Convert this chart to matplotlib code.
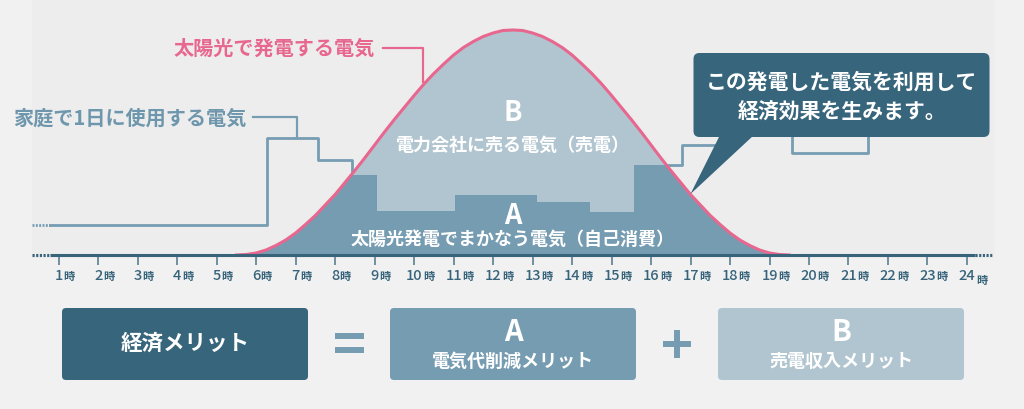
import numpy as np
import matplotlib.pyplot as plt
from matplotlib.patches import FancyBboxPatch, Polygon, Rectangle

plt.rcParams['font.family'] = ['Noto Sans CJK JP', 'DejaVu Sans']

# 太陽光の発電量 (15分ごと, 5:30〜19:30)
solar_hours = np.arange(5.5, 19.51, 0.25)
solar_kw = [0.00, 0.01, 0.04, 0.10, 0.19, 0.30, 0.44, 0.61, 0.79, 1.00,
            1.21, 1.45, 1.69, 1.94, 2.20, 2.46, 2.71, 2.95, 3.19, 3.42,
            3.63, 3.82, 4.00, 4.15, 4.27, 4.37, 4.44, 4.49, 4.50, 4.49,
            4.44, 4.37, 4.27, 4.15, 4.00, 3.82, 3.63, 3.42, 3.19, 2.95,
            2.71, 2.46, 2.20, 1.94, 1.69, 1.45, 1.21, 1.00, 0.79, 0.61,
            0.44, 0.30, 0.19, 0.10, 0.04, 0.01, 0.00]

# 家庭の使用量 (階段状)
household_edges = [0.78, 6.27, 7.57, 8.44, 9.05, 11.04, 13.11, 14.46, 15.56,
                   16.78, 18.0, 19.57, 21.5, 24.0]
household_kw = [0.60, 2.35, 1.91, 1.60, 0.88, 1.21, 1.07, 0.87, 1.80,
                2.21, 2.90, 2.05, 2.90]

hour_ticks = list(range(1, 25))
tick_labels = [str(h) for h in hour_ticks]

PINK = '#e8678f'
A_COL = '#769cb2'
B_COL = '#b1c5d0'
LINE_COL = '#779db3'
HH_TXT = '#6e97ad'
DARK = '#37657c'
AXIS = '#37647b'
WHITE = 'white'

# pixel <-> data
X0, PXH, Y0, PXK = 19.2, 39.49, 255.0, 50.0
def hx(px):
    return (px - X0) / PXH
def ky(py):
    return (Y0 - py) / PXK

fig = plt.figure(figsize=(10.24, 4.09), dpi=100, facecolor='#f1f1f1')
fig.add_artist(Rectangle((32 / 1024, (409 - 257) / 409), (993 - 32) / 1024, 257 / 409,
                         transform=fig.transFigure, color='#ededed', zorder=-1))

ax = fig.add_axes([0, 0, 1, 1])
ax.set_xlim(hx(0), hx(1024))
ax.set_ylim(ky(409), ky(0))
ax.axis('off')

hh_y = household_kw + [household_kw[-1]]
ax.step(household_edges, hh_y, where='post', color=LINE_COL, lw=2, zorder=2)
ax.plot([hx(32), hx(50)], [household_kw[0]] * 2, color=LINE_COL, lw=2,
        ls=(0, (0.7, 0.5)), zorder=2)

b_fill = ax.fill_between(solar_hours, solar_kw, 0, color=B_COL, lw=0, zorder=3)
a_fill = ax.fill_between(household_edges, hh_y, 0, step='post', color=A_COL, lw=0, zorder=4)
a_fill.set_clip_path(b_fill.get_paths()[0], ax.transData)
ax.plot(solar_hours, solar_kw, color=PINK, lw=2.2, zorder=5)

# 時間軸
ax.plot([hx(50), hx(975)], [0, 0], color=AXIS, lw=2.2, zorder=6, solid_capstyle='butt')
for a, b in [(32, 50), (975, 992)]:
    ax.plot([hx(a), hx(b)], [0, 0], color=AXIS, lw=2.2, ls=(0, (0.7, 0.5)), zorder=6)
ax.vlines(hour_ticks, ky(257), ky(265), color='#4f7489', lw=1.1)
for h, lab in zip(hour_ticks, tick_labels):
    t = ax.text(h, ky(276), lab, ha='center', va='center', fontsize=10.5,
                color=AXIS, fontweight='medium')
    ax.annotate('時', xy=(1, 0.5), xycoords=t, xytext=(0.3, -3.5 if h == 24 else 0),
                textcoords='offset points', ha='left', va='center', fontsize=8,
                color=AXIS, fontweight='bold')

# 注記レイヤー (ピクセル座標)
ov = fig.add_axes([0, 0, 1, 1])
ov.set_xlim(0, 1024)
ov.set_ylim(409, 0)
ov.axis('off')

ov.text(274.5, 48, '太陽光で発電する電気', color=PINK, fontsize=14.5,
        fontweight='bold', ha='center', va='center')
ov.plot([383, 423, 423], [48, 48, 82], color=PINK, lw=1.6)
ov.text(129.4, 118, '家庭で1日に使用する電気', color=HH_TXT, fontsize=14.5,
        fontweight='bold', ha='center', va='center')
ov.plot([253, 297, 297], [117, 117, 138], color=LINE_COL, lw=1.6)

ov.text(513, 113, 'B', color=WHITE, fontsize=19.5, fontweight='bold', ha='center', va='center')
ov.text(513, 145, '電力会社に売る電気（売電）', color=WHITE, fontsize=13,
        fontweight='bold', ha='center', va='center')
ov.text(513, 216, 'A', color=WHITE, fontsize=19.5, fontweight='bold', ha='center', va='center')
ov.text(513, 239, '太陽光発電でまかなう電気（自己消費）', color=WHITE, fontsize=13,
        fontweight='bold', ha='center', va='center')

# 吹き出し
ov.add_patch(FancyBboxPatch((693.5, 53), 296, 84, boxstyle='round,pad=0,rounding_size=6',
                            fc=DARK, ec='none'))
ov.add_patch(Polygon([(720, 135), (754, 135), (690.5, 194)], closed=True, fc=DARK, ec='none'))
ov.text(842, 82, 'この発電した電気を利用して', color=WHITE, fontsize=15,
        fontweight='bold', ha='center', va='center')
ov.text(842, 112, '経済効果を生みます。', color=WHITE, fontsize=15,
        fontweight='bold', ha='center', va='center')

# 下段の式
for x, c in [(62, DARK), (390, A_COL), (718, B_COL)]:
    ov.add_patch(FancyBboxPatch((x, 308), 246, 72, boxstyle='round,pad=0,rounding_size=4',
                                fc=c, ec='none'))
ov.text(185, 343, '経済メリット', color=WHITE, fontsize=15.5, fontweight='bold',
        ha='center', va='center')
ov.text(513, 332, 'A', color=WHITE, fontsize=21, fontweight='bold', ha='center', va='center')
ov.text(513, 361.5, '電気代削減メリット', color=WHITE, fontsize=13, fontweight='bold',
        ha='center', va='center')
ov.text(841, 332, 'B', color=WHITE, fontsize=21, fontweight='bold', ha='center', va='center')
ov.text(841, 361.5, '売電収入メリット', color=WHITE, fontsize=13, fontweight='bold',
        ha='center', va='center')

for yy in [336.3, 350]:
    ov.plot([335, 364], [yy, yy], color=A_COL, lw=4.3, solid_capstyle='butt')
ov.plot([663, 691], [344, 344], color=A_COL, lw=4.3, solid_capstyle='butt')
ov.plot([677, 677], [330, 358], color=A_COL, lw=4.3, solid_capstyle='butt')

fig.savefig('out.png', dpi=100, facecolor=fig.get_facecolor())
